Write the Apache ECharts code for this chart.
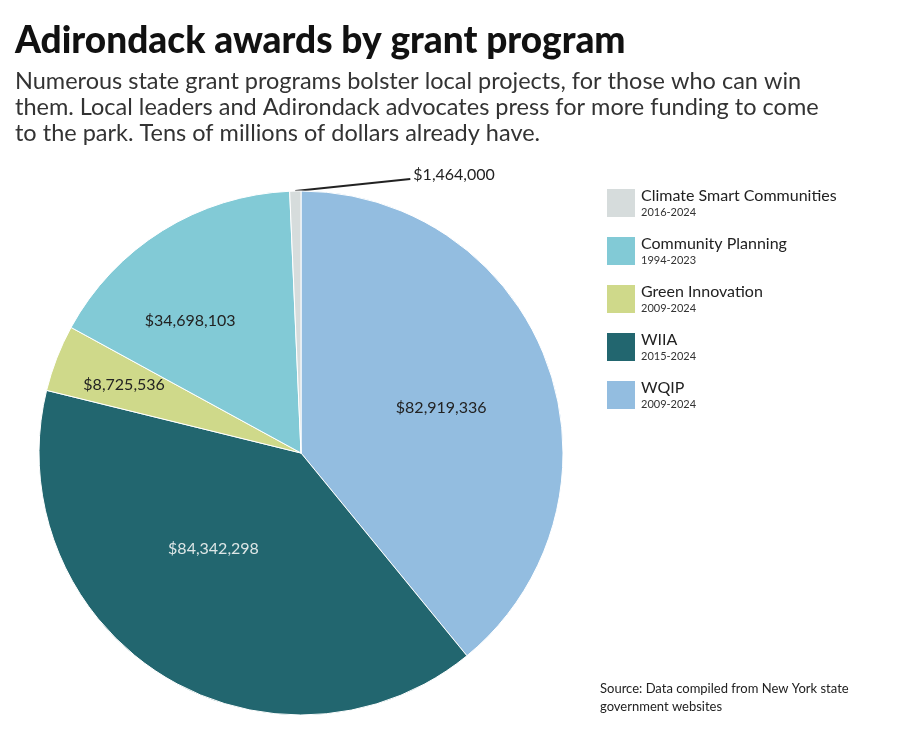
<!DOCTYPE html>
<html>
<head>
<meta charset="utf-8">
<script src="https://cdn.jsdelivr.net/npm/echarts@6/dist/echarts.min.js"></script>
<style>
  html, body { margin: 0; padding: 0; background: #fff; }
  #chart { width: 900px; height: 744px; }
</style>
</head>
<body>
<div id="chart"></div>
<script>
// Grant programs, in clockwise order from 12 o'clock
const programs = ["WQIP", "WIIA", "Green Innovation", "Community Planning", "Climate Smart Communities"]
const amounts = [82919336, 84342298, 8725536, 34698103, 1464000]
const years = ["2009-2024", "2015-2024", "2009-2024", "1994-2023", "2016-2024"]
const colors = ["#93bde0", "#22666f", "#cfd98a", "#82cad6", "#d6dcdc"]
const legendOrder = ["Climate Smart Communities", "Community Planning", "Green Innovation", "WIIA", "WQIP"]
// nudges for the inside labels
const labelOffsets = [[14, 0], [-16, -17], [-52, -20], [-40, -18], [0, 0]]

const fmt = (v) => "$" + v.toLocaleString("en-US")

const chart = echarts.init(document.getElementById("chart"))

const pieData = programs.map((name, i) => {
  const item = {
    name: name,
    value: amounts[i],
    itemStyle: { color: colors[i] },
    label: { color: i === 1 ? "#dde6e6" : "#222", offset: labelOffsets[i] },
  }
  if (name === "Climate Smart Communities") {
    item.label = { position: "outside", color: "#222", distance: 0 }
    item.labelLine = { show: true, length: 6, length2: 20, lineStyle: { color: "#222", width: 2 } }
  }
  return item
})

chart.setOption({
  animation: false,
  title: {
    text: "Adirondack awards by grant program",
    subtext: "Numerous state grant programs bolster local projects, for those who can win\nthem. Local leaders and Adirondack advocates press for more funding to come\nto the park. Tens of millions of dollars already have.",
    left: 10,
    top: 18,
    itemGap: 8,
    textStyle: { fontFamily: "Lato", fontWeight: 900, fontSize: 37, color: "#111" },
    subtextStyle: { fontFamily: "Lato", fontSize: 23.5, lineHeight: 26, color: "#333" },
  },
  legend: {
    orient: "vertical",
    left: 600,
    top: 182,
    itemWidth: 30,
    itemHeight: 30,
    itemGap: 16,
    icon: "rect",
    data: legendOrder,
    formatter: (name) => "{a|" + name + "}\n{b|" + years[programs.indexOf(name)] + "}",
    textStyle: {
      rich: {
        a: { fontFamily: "Lato", fontSize: 16, color: "#222", lineHeight: 19 },
        b: { fontFamily: "Lato", fontSize: 11, color: "#333", lineHeight: 14 },
      },
    },
  },
  graphic: [
    {
      type: "text",
      left: 600,
      top: 680,
      style: {
        text: "Source: Data compiled from New York state\ngovernment websites",
        font: "13px Lato",
        lineHeight: 18,
        fill: "#222",
      },
    },
  ],
  series: [
    {
      type: "pie",
      center: [301, 453],
      radius: 262,
      startAngle: 90,
      clockwise: true,
      itemStyle: { borderColor: "#fff", borderWidth: 1 },
      label: {
        show: true,
        position: "inside",
        fontFamily: "Lato",
        fontSize: 16,
        formatter: (p) => fmt(p.value),
      },
      labelLayout: (params) => {
        if (params.dataIndex !== 4 || !params.labelLinePoints) return {}
        const start = params.labelLinePoints[0]
        return {
          x: start[0] + 118,
          y: start[1] - 16,
          align: "left",
          verticalAlign: "middle",
          labelLinePoints: [start, [start[0] + 115, start[1] - 12], [start[0] + 115, start[1] - 12]],
        }
      },
      data: pieData,
    },
  ],
})
</script>
</body>
</html>
